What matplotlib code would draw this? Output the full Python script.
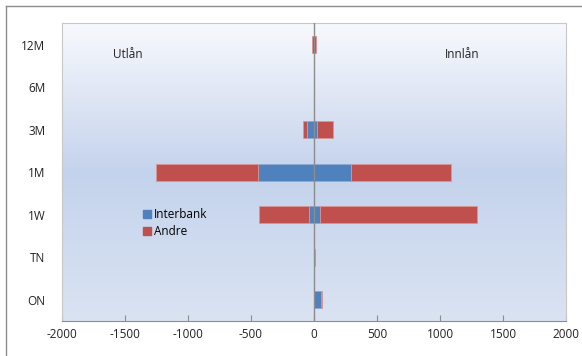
import numpy as np
import matplotlib.pyplot as plt
from matplotlib.colors import LinearSegmentedColormap
from matplotlib.lines import Line2D

plt.rcParams['font.family'] = ['Open Sans', 'DejaVu Sans']

categories = ["ON", "TN", "1W", "1M", "3M", "6M", "12M"]
# negative side = Utlån, positive side = Innlån
utlan_interbank = [0, 0, -40, -446, -58, 0, 0]
utlan_andre = [0, 0, -400, -810, -32, 0, -15]
innlan_interbank = [53, 0, 45, 294, 21, 0, 0]
innlan_andre = [10, 6, 1246, 796, 129, 0, 15]
xticks = [-2000, -1500, -1000, -500, 0, 500, 1000, 1500, 2000]

blue = "#4f81bd"
red = "#c0504d"

fig = plt.figure(figsize=(5.82, 3.56), dpi=100)
ax = fig.add_axes([0.1065, 0.0983, 0.866, 0.8357])

# vertical gradient behind the bars
cmap = LinearSegmentedColormap.from_list(
    "bg", [(0, "#dae3f2"), (0.5, "#c4d3ec"), (1, "#f8f9fd")])
grad = np.linspace(0, 1, 256).reshape(-1, 1)
ax.imshow(grad, aspect="auto", cmap=cmap, origin="lower",
          extent=[-2000, 2000, -0.5, 6.5], zorder=0)

y = np.arange(len(categories))
h = 0.4
ax.barh(y, utlan_interbank, height=h, color=blue, edgecolor="#8fa9d3", linewidth=0.6, zorder=2)
ax.barh(y, utlan_andre, left=utlan_interbank, height=h, color=red,
        edgecolor="#d99694", linewidth=0.6, zorder=2)
ax.barh(y, innlan_interbank, height=h, color=blue, edgecolor="#8fa9d3", linewidth=0.6, zorder=2)
ax.barh(y, innlan_andre, left=innlan_interbank, height=h, color=red,
        edgecolor="#d99694", linewidth=0.6, zorder=2)

ax.axvline(0, color="#8c8c8c", linewidth=1.0, zorder=3)

ax.set_xlim(-2000, 2000)
ax.set_ylim(-0.5, 6.5)
ax.set_xticks(xticks)
ax.set_xticklabels([str(v) for v in xticks])
ax.set_yticks(y)
ax.set_yticklabels(categories)
ax.tick_params(axis="x", direction="in", length=4, color="#8c8c8c",
               labelsize=8.5, labelcolor="#222222", pad=5)
ax.tick_params(axis="y", length=0, labelsize=8.5, labelcolor="#222222", pad=12)
for s in ax.spines.values():
    s.set_color("#c8c8c8")
    s.set_linewidth(0.8)
ax.spines["bottom"].set_color("#8c8c8c")

ax.text(-1477, 5.76, "Utlån", ha="center", va="center", fontsize=8.5, color="#222222")
ax.text(1173, 5.76, "Innlån", ha="center", va="center", fontsize=8.5, color="#222222")

handles = [Line2D([], [], marker="s", linestyle="none", markersize=6,
                  markerfacecolor=blue, markeredgecolor=blue),
           Line2D([], [], marker="s", linestyle="none", markersize=6,
                  markerfacecolor=red, markeredgecolor=red)]
ax.legend(handles, ["Interbank", "Andre"], loc="upper left",
          bbox_to_anchor=(0.152, 0.395), frameon=False, fontsize=8.5,
          handlelength=0.6, handletextpad=0.3, labelspacing=0.3,
          borderaxespad=0)

# outer chart frame (left and top edges)
fig.add_artist(Line2D([6 / 582, 6 / 582], [0, 1 - 6 / 356], color="#8c8c8c",
                      linewidth=1.0, transform=fig.transFigure))
fig.add_artist(Line2D([6 / 582, 1], [1 - 6 / 356, 1 - 6 / 356], color="#8c8c8c",
                      linewidth=1.0, transform=fig.transFigure))

fig.savefig("out.png", dpi=100)
